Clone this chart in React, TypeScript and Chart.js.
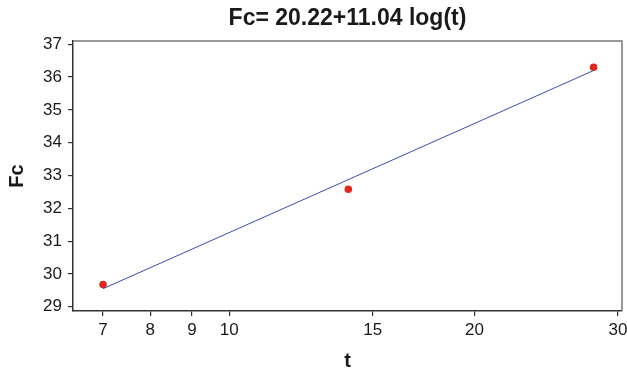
import React, { useEffect, useRef } from "react";
import { Chart, registerables } from "chart.js";

Chart.register(...registerables);

const titleText = "Fc= 20.22+11.04 log(t)";
const xLabel = "t";
const yLabel = "Fc";

const obsT = [7, 14, 28];
const obsFc = [29.68, 32.58, 36.3];

const fitT = [7, 28];
const fitFc = [29.55, 36.2];

const xTicks = [7, 8, 9, 10, 15, 20, 30];
const yTicks = [29, 30, 31, 32, 33, 34, 35, 36, 37];

const framePlugin = {
  id: "frame",
  afterDatasetsDraw(chart: any) {
    const { ctx, chartArea } = chart;
    ctx.save();
    ctx.strokeStyle = "#777";
    ctx.lineWidth = 1.5;
    ctx.beginPath();
    ctx.moveTo(chartArea.left, chartArea.top);
    ctx.lineTo(chartArea.right, chartArea.top);
    ctx.lineTo(chartArea.right, chartArea.bottom);
    ctx.stroke();
    ctx.restore();
  },
};

export default function App() {
  const ref = useRef<HTMLCanvasElement | null>(null);
  useEffect(() => {
    if (!ref.current) return;
    const font = "'Liberation Sans', Arial, Helvetica, sans-serif";
    const chart = new Chart(ref.current, {
      type: "scatter",
      data: {
        datasets: [
          {
            label: "fit",
            data: fitT.map((t, i) => ({ x: t, y: fitFc[i] })),
            showLine: true,
            borderColor: "#3a4db3",
            borderWidth: 1,
            pointRadius: 0,
            fill: false,
          },
          {
            label: "obs",
            data: obsT.map((t, i) => ({ x: t, y: obsFc[i] })),
            backgroundColor: "#e0281f",
            borderColor: "#e0281f",
            pointRadius: 3.8,
            borderWidth: 0,
          },
        ],
      },
      plugins: [framePlugin],
      options: {
        responsive: false,
        animation: false,
        layout: { padding: { top: 0, right: 5, left: 0, bottom: 0 } },
        plugins: {
          legend: { display: false },
          tooltip: { enabled: false },
          title: {
            display: true,
            text: titleText,
            fullSize: false,
            color: "#1a1a1a",
            font: { family: font, size: 23, weight: "bold", lineHeight: 1.2 },
            padding: { top: 5, bottom: 8.4 },
          },
        },
        scales: {
          x: {
            type: "logarithmic",
            min: 6.43,
            max: 30.34,
            afterBuildTicks: (s: any) => {
              s.ticks = xTicks.map((v) => ({ value: v }));
            },
            afterFit: (s: any) => {
              s.height = 63;
              s.paddingRight = 0;
              s.paddingLeft = 0;
            },
            ticks: {
              autoSkip: false,
              maxRotation: 0,
              color: "#1a1a1a",
              font: { family: font, size: 17 },
              padding: 4,
              callback: (v: any) => String(v),
            },
            grid: {
              drawOnChartArea: false,
              drawTicks: true,
              tickLength: 5,
              color: "#333",
              lineWidth: 1.2,
            },
            border: { display: true, color: "#333", width: 1.5 },
            title: {
              display: true,
              text: xLabel,
              color: "#1a1a1a",
              font: { family: font, size: 20, weight: "bold", lineHeight: 1.2 },
              padding: { top: 0, bottom: 1 },
            },
          },
          y: {
            type: "linear",
            min: 28.87,
            max: 37.1,
            afterBuildTicks: (s: any) => {
              s.ticks = yTicks.map((v) => ({ value: v }));
            },
            afterFit: (s: any) => {
              s.width = 73;
              s.paddingTop = 0;
              s.paddingBottom = 0;
            },
            ticks: {
              color: "#1a1a1a",
              font: { family: font, size: 17 },
              padding: 6,
              callback: (v: any) => String(v),
            },
            grid: {
              drawOnChartArea: false,
              drawTicks: true,
              tickLength: 5,
              color: "#333",
              lineWidth: 1.2,
            },
            border: { display: true, color: "#333", width: 1.5 },
            title: {
              display: true,
              text: yLabel,
              color: "#1a1a1a",
              font: { family: font, size: 20, weight: "bold", lineHeight: 1.2 },
              padding: { top: 5, bottom: 0 },
            },
          },
        },
      },
    } as any);
    return () => chart.destroy();
  }, []);
  return (
    <div style={{ position: "fixed", left: 0, top: 0, width: 627, height: 374, background: "#fff" }}>
      <canvas ref={ref} width={627} height={374} style={{ width: 627, height: 374 }} />
    </div>
  );
}
